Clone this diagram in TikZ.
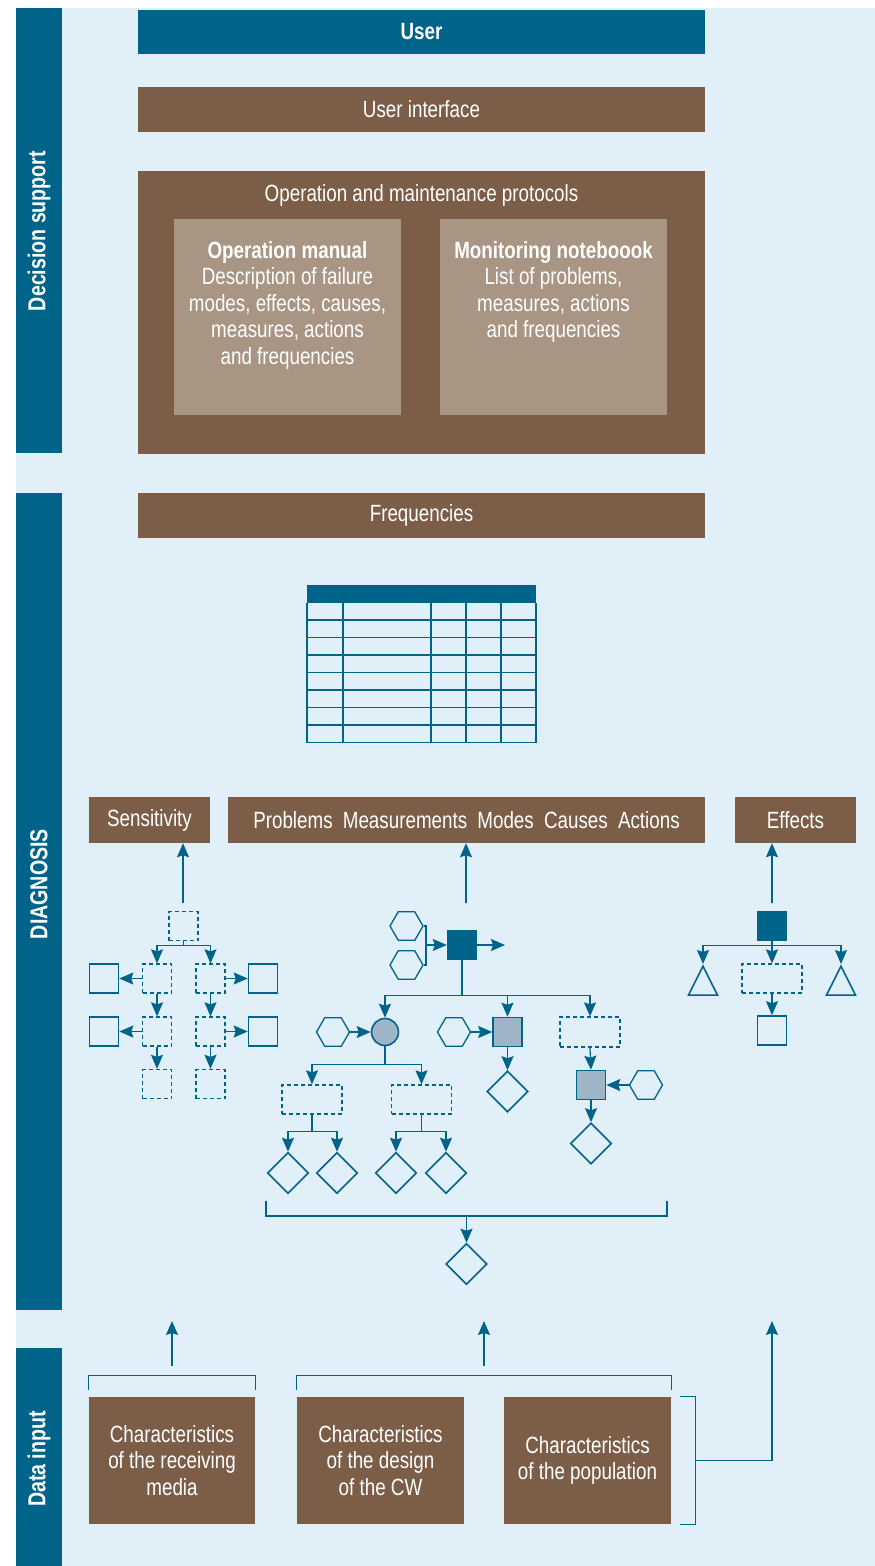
\documentclass[tikz,border=0pt]{standalone}
\usepackage{fontspec}
\setmainfont{Liberation Sans}[FakeStretch=0.8]
\usetikzlibrary{arrows.meta,shapes.geometric}
\definecolor{dblue}{RGB}{0,99,138}
\definecolor{lblue}{RGB}{225,239,249}
\definecolor{brown}{RGB}{124,94,72}
\definecolor{lbrown}{RGB}{169,149,131}
\definecolor{gblue}{RGB}{160,180,200}
\begin{document}
\begin{tikzpicture}[x=1pt, y=-1pt, font=\fontsize{23.5}{26.5}\selectfont]
        \tikzstyle{bx} = [fill=brown, text=white, inner sep=0, align=center]
        \tikzstyle{ibx} = [fill=lbrown, inner sep=0]
        \tikzstyle{bandtxt} = [text=white, font=\fontsize{24.5}{26}\selectfont\bfseries, rotate=90]
        \tikzstyle{ln} = [draw=dblue, line width=1.2]
        \tikzstyle{arr} = [ln, -{Stealth[length=14pt,width=12pt,inset=2pt]}]
        \tikzstyle{dbox} = [draw=dblue, line width=1.3, dash pattern=on 4pt off 3pt, inner sep=0]
        \tikzstyle{sbox} = [draw=dblue, line width=1.6, inner sep=0, minimum size=29]
        \tikzstyle{fbox} = [fill=dblue, inner sep=0, minimum size=30]
        \tikzstyle{gbox} = [draw=dblue, fill=gblue, line width=1.6, inner sep=0, minimum size=29]
        \tikzstyle{hex} = [draw=dblue, line width=1.3, regular polygon, regular polygon sides=6, minimum size=33, inner sep=0]
        \tikzstyle{dia} = [draw=dblue, line width=1.6, diamond, minimum width=41, minimum height=41, inner sep=0]
        \tikzstyle{tri} = [draw=dblue, line width=1.6, isosceles triangle, shape border rotate=90, isosceles triangle stretches, minimum width=29, minimum height=29, inner sep=0, anchor=apex]

        \useasboundingbox (0,0) rectangle (875,1566);
        \fill[lblue] (16,8) rectangle (875,1566);

        % side bands
        \fill[dblue] (16,8) rectangle (62,453);
        \fill[dblue] (16,493) rectangle (62,1310);
        \fill[dblue] (16,1348) rectangle (62,1566);
        \node (dslbl) [bandtxt] at (39,231) {Decision support};
        \node (dglbl) [bandtxt] at (39,884) {DIAGNOSIS};
        \node (dilbl) [bandtxt] at (39,1459) {Data input};

        % decision support
        \node (user) [bx, fill=dblue, font=\fontsize{23.5}{26.5}\selectfont\bfseries, minimum width=567, minimum height=44] at (421.5,32) {User};
        \node (ui) [bx, minimum width=567, minimum height=45] at (421.5,109.5) {User interface};
        \node (prot) [bx, minimum width=567, minimum height=283] at (421.5,312.5) {};
        \node (protlbl) [text=white] at (421.5,195) {Operation and maintenance protocols};
        \node (opm) [ibx, minimum width=227, minimum height=196] at (287.5,317) {};
        \node (mon) [ibx, minimum width=227, minimum height=196] at (553.5,317) {};
        \node (opmtxt) [text=white, align=center] at (287.5,305) {\textbf{Operation manual}\\Description of failure\\modes, effects, causes,\\measures, actions\\and frequencies};
        \node (montxt) [text=white, align=center] at (553.5,292) {\textbf{Monitoring noteboook}\\List of problems,\\measures, actions\\and frequencies};

        % diagnosis
        \node (freq) [bx, minimum width=567, minimum height=45] at (421.5,515.5) {Frequencies};

        \fill[dblue] (307,585) rectangle (536,603);
        \foreach \y in {620,637.5,655,672.5,690,707.5,725,742.5}
            \draw[ln, line width=1.5] (307,\y) -- (536,\y);
        \foreach \x in {307,343,431,466,501,536}
            \draw[ln, line width=1.5] (\x,603) -- (\x,742.5);

        \node (sens) [bx, minimum width=121, minimum height=46] at (149.5,820) {Sensitivity};
        \node (prob) [bx, minimum width=477, minimum height=46] at (466.5,820) {Problems\hspace{5pt} Measurements\hspace{5pt} Modes\hspace{5pt} Causes\hspace{5pt} Actions};
        \node (eff) [bx, minimum width=121, minimum height=46] at (795.5,820) {Effects};

        \coordinate (sfoot) at (183,903);
        \coordinate (pfoot) at (466,903);
        \coordinate (efoot) at (772,903);
        \draw[arr] (sfoot) -- (sfoot |- sens.south);
        \draw[arr] (pfoot) -- (pfoot |- prob.south);
        \draw[arr] (efoot) -- (efoot |- eff.south);

        % sensitivity tree
        \node (s0) [dbox, minimum size=29] at (183.5,926) {};
        \node (s1l) [dbox, minimum size=29] at (157,978.5) {};
        \node (s1r) [dbox, minimum size=29] at (210.5,978.5) {};
        \node (s2l) [dbox, minimum size=29] at (157,1031.5) {};
        \node (s2r) [dbox, minimum size=29] at (210.5,1031.5) {};
        \node (s3l) [dbox, minimum size=29] at (157,1084) {};
        \node (s3r) [dbox, minimum size=29] at (210.5,1084) {};
        \node (q1l) [sbox] at (104,978.5) {};
        \node (q1r) [sbox] at (263,978.5) {};
        \node (q2l) [sbox] at (104,1031.5) {};
        \node (q2r) [sbox] at (263,1031.5) {};
        \draw[arr] (s0.south) -- ++(0,4) -| (s1l.north);
        \draw[arr] (s0.south) -- ++(0,4) -| (s1r.north);
        \draw[arr] (s1l.south) -- (s2l.north);
        \draw[arr] (s2l.south) -- (s3l.north);
        \draw[arr] (s1r.south) -- (s2r.north);
        \draw[arr] (s2r.south) -- (s3r.north);
        \draw[arr] (s1l.west) -- (q1l.east);
        \draw[arr] (s2l.west) -- (q2l.east);
        \draw[arr] (s1r.east) -- (q1r.west);
        \draw[arr] (s2r.east) -- (q2r.west);

        % problems tree
        \node (m0) [fbox] at (462,945) {};
        \node (h1) [hex] at (406.5,926) {};
        \node (h2) [hex] at (406.5,965) {};
        \coordinate (hj) at (426,945);
        \coordinate (mout) at (505,945);
        \draw[ln] (h1.east) -| (hj) |- (h2.east);
        \draw[arr] (hj) -- (m0.west);
        \draw[arr] (m0.east) -- (mout);

        \node (c1) [circle, draw=dblue, fill=gblue, line width=1.6, minimum size=27, inner sep=0] at (385,1032) {};
        \node (h3) [hex] at (333,1032) {};
        \node (g1) [gbox] at (507.5,1032) {};
        \node (h4) [hex] at (454,1032) {};
        \node (d1) [dbox, minimum width=60, minimum height=30] at (590,1032) {};
        \draw[arr] (m0.south) -- ++(0,35) -| (c1.north);
        \draw[arr] (m0.south) -- ++(0,35) -| (g1.north);
        \draw[arr] (m0.south) -- ++(0,35) -| (d1.north);
        \draw[arr] (h3.east) -- (c1.west);
        \draw[arr] (h4.east) -- (g1.west);

        \node (g2) [gbox] at (591,1085) {};
        \node (h5) [hex] at (646,1085) {};
        \node (k1) [dia] at (507.5,1091.5) {};
        \node (k2) [dia] at (591,1143.5) {};
        \draw[arr] (d1.south) -- (g2.north);
        \draw[arr] (h5.west) -- (g2.east);
        \draw[arr] (g1.south) -- (k1.north);
        \draw[arr] (g2.south) -- (k2.north);

        \node (d2) [dbox, minimum width=60, minimum height=29] at (312,1099.5) {};
        \node (d3) [dbox, minimum width=60, minimum height=29] at (421.5,1099.5) {};
        \draw[arr] (c1.south) -- ++(0,18.5) -| (d2.north);
        \draw[arr] (c1.south) -- ++(0,18.5) -| (d3.north);
        \node (k3) [dia] at (288,1173) {};
        \node (k4) [dia] at (337,1173) {};
        \node (k5) [dia] at (396,1173) {};
        \node (k6) [dia] at (446,1173) {};
        \draw[arr] (d2.south) -- ++(0,16.5) -| (k3.north);
        \draw[arr] (d2.south) -- ++(0,16.5) -| (k4.north);
        \draw[arr] (d3.south) -- ++(0,16.5) -| (k5.north);
        \draw[arr] (d3.south) -- ++(0,16.5) -| (k6.north);

        \coordinate (bl) at (266,1201);
        \coordinate (br) at (667,1201);
        \coordinate (bm) at (466.5,1216);
        \node (k7) [dia] at (466.5,1264) {};
        \draw[ln] (bl) |- (bm) -| (br);
        \draw[arr] (bm) -- (k7.north);

        % effects tree
        \node (e0) [fbox] at (772,926) {};
        \node (t1) [tri] at (703,964) {};
        \node (t2) [tri] at (841,964) {};
        \node (e1) [dbox, minimum width=60, minimum height=29] at (772,978.5) {};
        \node (e2) [sbox] at (772,1030.5) {};
        \draw[arr] (e0.south) -- ++(0,4) -| (t1.apex);
        \draw[arr] (e0.south) -- ++(0,4) -| (t2.apex);
        \draw[arr] (e0.south) -- (e1.north);
        \draw[arr] (e1.south) -- (e2.north);

        % data input
        \node (crm) [bx, minimum width=166, minimum height=127] at (172,1460.5) {Characteristics\\of the receiving\\media};
        \node (cdc) [bx, minimum width=167, minimum height=127] at (380.5,1460.5) {Characteristics\\of the design\\of the CW};
        \node (cpop) [bx, minimum width=167, minimum height=127] at (587.5,1460.5) {Characteristics\\of the population};

        \coordinate (up1) at (172,1321);
        \coordinate (up2) at (484,1321);
        \coordinate (up3) at (772,1321);
        \draw[ln] ([yshift=7]crm.north west) -- ++(0,-14) -| ([yshift=7]crm.north east);
        \draw[ln] ([yshift=7]cdc.north west) -- ++(0,-14) -| ([yshift=7]cpop.north east);
        \draw[ln] ([xshift=9]cpop.north east) -- ++(15,0) |- ([xshift=9]cpop.south east);
        \draw[arr] ([yshift=31]crm.north) -- (up1);
        \draw[arr] (up2 |- 0,1366) -- (up2);
        \draw[arr] ([xshift=24]cpop.east) -| (up3);

    \end{tikzpicture}
\end{document}
